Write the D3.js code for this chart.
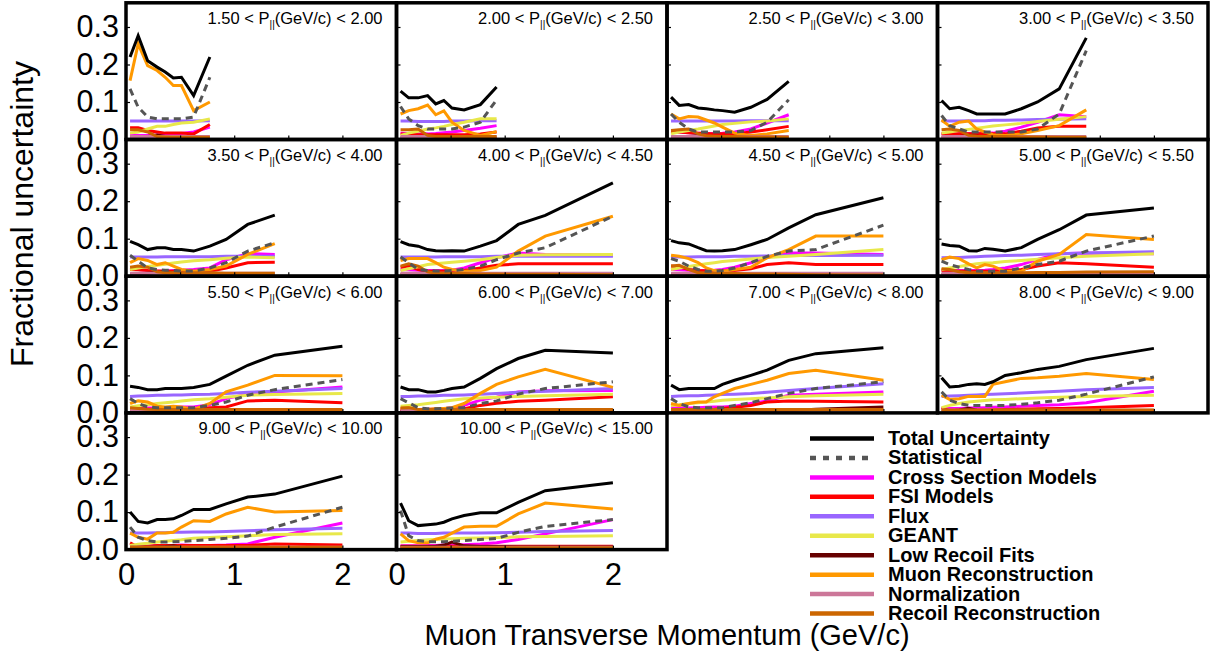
<!DOCTYPE html>
<html><head><meta charset="utf-8">
<script src="https://cdn.jsdelivr.net/npm/d3@7"></script>
<style>
html,body{margin:0;padding:0;background:#fff;}
svg text{font-family:"Liberation Sans",Arial,Helvetica,sans-serif;}
</style></head>
<body>
<svg id="chart" width="1213" height="655"></svg>
<script>
// ---- DATA ----
const ptBins = [0.0375, 0.1125, 0.2, 0.2875, 0.3625, 0.4375, 0.5125, 0.625, 0.775, 0.925, 1.125, 1.375, 2.0];
const pzLow  = ["1.50","2.00","2.50","3.00","3.50","4.00","4.50","5.00","5.50","6.00","7.00","8.00","9.00","10.00"];
const pzHigh = ["2.00","2.50","3.00","3.50","4.00","4.50","5.00","5.50","6.00","7.00","8.00","9.00","10.00","15.00"];
const yTicks = [0, 0.1, 0.2, 0.3];
const xTicks = [0, 1, 2];
const seriesNames = ["Total Uncertainty","Statistical","Cross Section Models","FSI Models","Flux","GEANT","Low Recoil Fits","Muon Reconstruction","Normalization","Recoil Reconstruction"];

const total = [
 [0.22,0.277,0.21,0.193,0.18,0.164,0.166,0.117,0.22],
 [0.129,0.111,0.111,0.117,0.095,0.104,0.084,0.079,0.093,0.14],
 [0.113,0.091,0.093,0.084,0.082,0.079,0.077,0.073,0.086,0.107,0.155],
 [0.104,0.082,0.086,0.077,0.068,0.068,0.068,0.068,0.082,0.1,0.135,0.271],
 [0.093,0.084,0.071,0.076,0.076,0.071,0.071,0.067,0.08,0.098,0.138,0.163],
 [0.092,0.084,0.08,0.071,0.068,0.067,0.068,0.067,0.08,0.095,0.138,0.162,0.249],
 [0.095,0.089,0.086,0.076,0.068,0.067,0.068,0.071,0.084,0.098,0.129,0.164,0.209],
 [0.086,0.082,0.08,0.068,0.067,0.074,0.072,0.067,0.076,0.098,0.124,0.163,0.182],
 [0.071,0.068,0.062,0.062,0.065,0.065,0.065,0.068,0.076,0.098,0.127,0.154,0.178],
 [0.069,0.062,0.062,0.056,0.056,0.06,0.065,0.069,0.092,0.118,0.145,0.167,0.16],
 [0.074,0.062,0.065,0.065,0.065,0.065,0.076,0.087,0.1,0.114,0.14,0.158,0.174],
 [0.094,0.069,0.071,0.076,0.078,0.076,0.083,0.1,0.107,0.116,0.124,0.142,0.172],
 [0.1,0.075,0.071,0.08,0.08,0.082,0.091,0.107,0.107,0.122,0.14,0.148,0.196],
 [0.124,0.077,0.064,0.066,0.068,0.073,0.082,0.091,0.098,0.098,0.126,0.157,0.178]
];
const statistical = [
 [0.135,0.086,0.06,0.055,0.055,0.055,0.055,0.06,0.166],
 [0.088,0.055,0.037,0.028,0.028,0.028,0.028,0.033,0.046,0.106],
 [0.068,0.046,0.028,0.02,0.02,0.02,0.02,0.02,0.024,0.046,0.106],
 [0.064,0.037,0.028,0.02,0.02,0.02,0.02,0.02,0.02,0.028,0.068,0.237],
 [0.056,0.04,0.022,0.018,0.016,0.015,0.014,0.014,0.022,0.036,0.067,0.089],
 [0.051,0.036,0.018,0.015,0.014,0.014,0.015,0.018,0.027,0.044,0.062,0.076,0.16],
 [0.047,0.04,0.027,0.018,0.013,0.013,0.015,0.022,0.036,0.053,0.067,0.071,0.136],
 [0.04,0.031,0.024,0.018,0.014,0.013,0.013,0.013,0.022,0.031,0.04,0.067,0.107],
 [0.038,0.025,0.016,0.014,0.014,0.014,0.014,0.014,0.02,0.029,0.047,0.062,0.089],
 [0.038,0.027,0.014,0.011,0.011,0.012,0.013,0.014,0.025,0.032,0.05,0.065,0.083],
 [0.038,0.025,0.016,0.014,0.014,0.014,0.014,0.02,0.027,0.038,0.052,0.065,0.083],
 [0.056,0.034,0.025,0.02,0.02,0.02,0.02,0.02,0.023,0.027,0.034,0.05,0.096],
 [0.06,0.033,0.024,0.02,0.02,0.021,0.022,0.024,0.027,0.03,0.036,0.06,0.113],
 [0.104,0.037,0.024,0.021,0.021,0.021,0.022,0.024,0.027,0.03,0.046,0.062,0.08]
];
const crossSection = [
 [0.013,0.011,0.011,0.012,0.013,0.014,0.016,0.02,0.033],
 [0.017,0.016,0.015,0.015,0.016,0.018,0.02,0.024,0.03,0.037],
 [0.02,0.019,0.018,0.017,0.016,0.016,0.017,0.02,0.028,0.044,0.066],
 [0.015,0.015,0.015,0.016,0.016,0.017,0.017,0.022,0.033,0.046,0.066,0.061],
 [0.022,0.018,0.015,0.013,0.014,0.015,0.016,0.018,0.022,0.044,0.06,0.058],
 [0.018,0.017,0.016,0.015,0.015,0.015,0.016,0.022,0.036,0.049,0.062,0.058,0.056],
 [0.018,0.017,0.016,0.015,0.015,0.016,0.018,0.024,0.036,0.05,0.062,0.062,0.058],
 [0.018,0.016,0.015,0.015,0.015,0.016,0.018,0.022,0.031,0.045,0.06,0.062,0.06],
 [0.014,0.013,0.013,0.013,0.014,0.015,0.016,0.016,0.022,0.038,0.05,0.056,0.069],
 [0.009,0.009,0.009,0.01,0.01,0.011,0.014,0.02,0.034,0.042,0.056,0.059,0.06],
 [0.014,0.013,0.013,0.014,0.015,0.016,0.016,0.018,0.025,0.032,0.047,0.05,0.056],
 [0.012,0.012,0.012,0.013,0.013,0.014,0.015,0.016,0.018,0.02,0.022,0.027,0.058],
 [0.007,0.008,0.009,0.01,0.01,0.011,0.012,0.011,0.011,0.012,0.015,0.033,0.071],
 [0.01,0.01,0.01,0.011,0.011,0.012,0.012,0.013,0.015,0.018,0.027,0.042,0.08]
];
const fsiModels = [
 [0.031,0.031,0.024,0.02,0.017,0.017,0.017,0.015,0.04],
 [0.015,0.014,0.013,0.013,0.013,0.013,0.013,0.013,0.015,0.02],
 [0.021,0.02,0.018,0.017,0.016,0.015,0.015,0.015,0.02,0.026,0.035],
 [0.015,0.015,0.015,0.015,0.015,0.015,0.015,0.015,0.022,0.031,0.035,0.035],
 [0.018,0.017,0.015,0.014,0.013,0.013,0.013,0.013,0.013,0.022,0.036,0.037],
 [0.024,0.027,0.018,0.013,0.013,0.013,0.013,0.015,0.022,0.029,0.033,0.033,0.033],
 [0.027,0.025,0.018,0.015,0.014,0.014,0.014,0.015,0.02,0.031,0.036,0.031,0.031],
 [0.015,0.014,0.013,0.013,0.013,0.013,0.013,0.015,0.018,0.027,0.036,0.033,0.024],
 [0.012,0.011,0.01,0.01,0.009,0.009,0.009,0.01,0.014,0.016,0.032,0.034,0.027],
 [0.007,0.007,0.007,0.008,0.008,0.009,0.01,0.011,0.02,0.026,0.031,0.034,0.043],
 [0.007,0.007,0.008,0.008,0.009,0.01,0.012,0.015,0.02,0.029,0.032,0.031,0.029],
 [0.014,0.006,0.006,0.007,0.007,0.007,0.008,0.009,0.01,0.011,0.012,0.014,0.02],
 [0.018,0.007,0.009,0.011,0.011,0.011,0.011,0.011,0.011,0.011,0.011,0.015,0.012],
 [0.009,0.009,0.009,0.009,0.009,0.009,0.009,0.009,0.009,0.009,0.009,0.009,0.009]
];
const flux = [
 [0.049,0.049,0.049,0.049,0.049,0.049,0.049,0.049,0.05],
 [0.049,0.049,0.048,0.048,0.048,0.048,0.049,0.049,0.05,0.05],
 [0.049,0.049,0.049,0.049,0.049,0.049,0.049,0.049,0.05,0.05,0.05],
 [0.049,0.049,0.049,0.05,0.05,0.05,0.051,0.051,0.052,0.053,0.054,0.055],
 [0.051,0.051,0.051,0.051,0.052,0.052,0.052,0.052,0.052,0.053,0.053,0.053],
 [0.051,0.051,0.051,0.051,0.051,0.052,0.052,0.052,0.052,0.053,0.053,0.053,0.053],
 [0.051,0.051,0.051,0.052,0.052,0.052,0.052,0.053,0.053,0.054,0.055,0.055,0.056],
 [0.049,0.05,0.05,0.051,0.052,0.053,0.054,0.055,0.056,0.058,0.06,0.062,0.065],
 [0.044,0.045,0.046,0.047,0.047,0.048,0.048,0.049,0.05,0.052,0.055,0.058,0.065],
 [0.044,0.044,0.045,0.045,0.046,0.047,0.047,0.048,0.05,0.052,0.055,0.058,0.065],
 [0.044,0.045,0.046,0.046,0.047,0.048,0.049,0.05,0.052,0.055,0.06,0.065,0.078],
 [0.044,0.045,0.046,0.047,0.048,0.049,0.05,0.051,0.053,0.055,0.058,0.062,0.068],
 [0.044,0.044,0.044,0.045,0.045,0.046,0.046,0.047,0.047,0.048,0.05,0.053,0.057],
 [0.044,0.044,0.043,0.043,0.043,0.044,0.044,0.044,0.044,0.045,0.046,0.048,0.051]
];
const geant = [
 [0.017,0.02,0.028,0.035,0.035,0.04,0.044,0.046,0.055],
 [0.011,0.017,0.022,0.028,0.031,0.035,0.04,0.046,0.055,0.055],
 [0.015,0.02,0.024,0.028,0.032,0.036,0.04,0.043,0.047,0.049,0.055],
 [0.017,0.02,0.024,0.027,0.03,0.033,0.036,0.039,0.043,0.048,0.054,0.061],
 [0.018,0.022,0.026,0.029,0.032,0.035,0.038,0.041,0.044,0.048,0.051,0.049],
 [0.015,0.02,0.025,0.031,0.033,0.035,0.037,0.04,0.044,0.05,0.056,0.057,0.058],
 [0.018,0.022,0.026,0.03,0.033,0.036,0.039,0.042,0.046,0.05,0.053,0.058,0.071],
 [0.018,0.022,0.026,0.03,0.033,0.035,0.036,0.039,0.042,0.045,0.049,0.053,0.06],
 [0.016,0.019,0.022,0.025,0.027,0.029,0.032,0.035,0.038,0.042,0.047,0.049,0.052],
 [0.018,0.02,0.022,0.025,0.028,0.031,0.034,0.038,0.04,0.042,0.044,0.046,0.05],
 [0.02,0.022,0.025,0.027,0.029,0.031,0.034,0.036,0.038,0.04,0.043,0.046,0.05],
 [0.014,0.02,0.025,0.029,0.031,0.033,0.035,0.036,0.038,0.04,0.042,0.044,0.047],
 [0.011,0.014,0.017,0.02,0.022,0.024,0.026,0.03,0.032,0.034,0.037,0.04,0.042],
 [0.02,0.022,0.024,0.026,0.027,0.028,0.029,0.03,0.031,0.032,0.034,0.035,0.037]
];
const lowRecoil = [
 [0.005,0.006,0.008,0.012,0.008,0.006,0.005,0.005,0.005],
 [0.005,0.006,0.006,0.008,0.008,0.007,0.006,0.005,0.005,0.005],
 [0.005,0.006,0.008,0.01,0.008,0.006,0.005,0.005,0.005,0.005,0.005],
 [0.005,0.006,0.008,0.01,0.009,0.007,0.006,0.005,0.005,0.005,0.005,0.005],
 [0.005,0.006,0.008,0.01,0.012,0.008,0.006,0.005,0.005,0.005,0.005,0.005],
 [0.005,0.006,0.007,0.008,0.007,0.006,0.005,0.005,0.005,0.005,0.005,0.005,0.005],
 [0.005,0.006,0.007,0.008,0.007,0.006,0.005,0.005,0.005,0.005,0.005,0.005,0.005],
 [0.005,0.005,0.006,0.007,0.006,0.005,0.005,0.005,0.005,0.005,0.005,0.005,0.005],
 [0.004,0.005,0.006,0.007,0.006,0.005,0.004,0.004,0.004,0.004,0.004,0.004,0.004],
 [0.004,0.005,0.006,0.006,0.005,0.004,0.004,0.004,0.004,0.004,0.004,0.004,0.004],
 [0.004,0.005,0.006,0.006,0.005,0.004,0.004,0.004,0.004,0.005,0.006,0.01,0.016],
 [0.004,0.005,0.008,0.012,0.007,0.005,0.005,0.005,0.005,0.005,0.005,0.005,0.005],
 [0.006,0.006,0.006,0.007,0.008,0.01,0.006,0.005,0.005,0.005,0.005,0.005,0.005],
 [0.008,0.008,0.008,0.008,0.009,0.012,0.02,0.01,0.008,0.008,0.007,0.007,0.007]
];
const muonReco = [
 [0.157,0.255,0.197,0.184,0.166,0.144,0.144,0.077,0.1],
 [0.068,0.077,0.082,0.092,0.066,0.076,0.046,0.024,0.011,0.021],
 [0.068,0.055,0.061,0.06,0.052,0.044,0.033,0.017,0.011,0.015,0.024],
 [0.052,0.035,0.046,0.049,0.028,0.02,0.013,0.011,0.015,0.024,0.037,0.079],
 [0.036,0.047,0.042,0.031,0.036,0.027,0.018,0.013,0.018,0.027,0.058,0.087],
 [0.042,0.047,0.047,0.047,0.036,0.024,0.018,0.013,0.015,0.024,0.067,0.107,0.16],
 [0.056,0.053,0.047,0.036,0.022,0.015,0.013,0.018,0.024,0.049,0.071,0.107,0.107],
 [0.044,0.051,0.047,0.033,0.022,0.031,0.027,0.013,0.013,0.04,0.058,0.111,0.098],
 [0.025,0.032,0.029,0.018,0.016,0.018,0.016,0.009,0.025,0.056,0.074,0.1,0.099],
 [0.012,0.014,0.009,0.009,0.012,0.012,0.014,0.025,0.052,0.076,0.096,0.116,0.068],
 [0.025,0.02,0.025,0.029,0.029,0.043,0.052,0.065,0.076,0.087,0.105,0.114,0.087],
 [0.047,0.036,0.038,0.044,0.044,0.044,0.076,0.083,0.092,0.094,0.098,0.105,0.089],
 [0.044,0.033,0.028,0.044,0.044,0.046,0.06,0.077,0.075,0.095,0.113,0.1,0.104],
 [0.042,0.024,0.018,0.018,0.028,0.033,0.044,0.06,0.062,0.062,0.095,0.124,0.108]
];
const normalization = [
 [0.008,0.008,0.008,0.008,0.008,0.008,0.008,0.008,0.008],
 [0.008,0.008,0.008,0.008,0.008,0.008,0.008,0.008,0.008,0.008],
 [0.008,0.008,0.008,0.008,0.008,0.008,0.008,0.008,0.008,0.008,0.008],
 [0.008,0.008,0.008,0.008,0.008,0.008,0.008,0.008,0.008,0.008,0.008,0.008],
 [0.008,0.008,0.008,0.008,0.008,0.008,0.008,0.008,0.008,0.008,0.008,0.008],
 [0.008,0.008,0.008,0.008,0.008,0.008,0.008,0.008,0.008,0.008,0.008,0.008,0.008],
 [0.008,0.008,0.008,0.008,0.008,0.008,0.008,0.008,0.008,0.008,0.008,0.008,0.008],
 [0.008,0.008,0.008,0.008,0.008,0.008,0.008,0.008,0.008,0.008,0.008,0.008,0.008],
 [0.007,0.007,0.007,0.007,0.007,0.007,0.007,0.007,0.007,0.007,0.007,0.007,0.007],
 [0.007,0.007,0.007,0.007,0.007,0.007,0.007,0.007,0.007,0.007,0.007,0.007,0.007],
 [0.007,0.007,0.007,0.007,0.007,0.007,0.007,0.007,0.007,0.007,0.007,0.007,0.007],
 [0.007,0.007,0.007,0.007,0.007,0.007,0.007,0.007,0.007,0.007,0.007,0.007,0.007],
 [0.006,0.006,0.006,0.006,0.006,0.006,0.006,0.006,0.006,0.006,0.006,0.006,0.006],
 [0.006,0.006,0.006,0.006,0.006,0.006,0.006,0.006,0.006,0.006,0.006,0.006,0.006]
];
const recoilReco = [
 [0.026,0.026,0.02,0.008,0.007,0.006,0.006,0.006,0.006],
 [0.026,0.026,0.028,0.011,0.008,0.008,0.008,0.008,0.008,0.008],
 [0.024,0.026,0.028,0.015,0.01,0.009,0.008,0.008,0.007,0.007,0.006],
 [0.026,0.028,0.024,0.011,0.009,0.008,0.008,0.008,0.007,0.007,0.006,0.006],
 [0.024,0.027,0.024,0.012,0.009,0.009,0.009,0.009,0.009,0.008,0.008,0.008],
 [0.027,0.033,0.027,0.012,0.008,0.008,0.007,0.007,0.006,0.006,0.005,0.005,0.004],
 [0.027,0.029,0.018,0.009,0.008,0.008,0.007,0.007,0.006,0.006,0.005,0.004,0.003],
 [0.02,0.018,0.012,0.009,0.009,0.009,0.009,0.009,0.009,0.01,0.01,0.011,0.012],
 [0.014,0.012,0.01,0.009,0.009,0.009,0.009,0.009,0.009,0.009,0.009,0.009,0.009],
 [0.013,0.014,0.009,0.009,0.009,0.009,0.009,0.009,0.009,0.009,0.009,0.009,0.009],
 [0.009,0.009,0.009,0.009,0.009,0.009,0.009,0.009,0.009,0.009,0.009,0.009,0.009],
 [0.008,0.008,0.008,0.008,0.008,0.008,0.008,0.008,0.008,0.008,0.008,0.008,0.008],
 [0.006,0.006,0.006,0.006,0.006,0.006,0.006,0.006,0.006,0.006,0.006,0.006,0.006],
 [0.005,0.005,0.005,0.005,0.005,0.005,0.005,0.005,0.005,0.005,0.005,0.005,0.005]
];

// ---- STYLE ----
const seriesData = [total, statistical, crossSection, fsiModels, flux, geant, lowRecoil, muonReco, normalization, recoilReco];
const seriesColors = ["#000000","#555555","#ff00ff","#ff0000","#9966ff","#e8e84a","#660000","#ff9900","#cc7799","#cc6600"];
const drawOrder = [2,3,4,5,6,7,8,9,1,0];
const font = '"Liberation Sans",Arial,Helvetica,sans-serif';

const svg = d3.select("#chart");
const colX = [126, 396.5, 667, 937.5], colW = 270.5;
const rowB = [139.5, 276.2, 412.9, 549.6], rowH = 136.7;
const yMax = 0.3645;

for (let p = 0; p < total.length; p++) {
  const c = p % 4, r = Math.floor(p / 4);
  const x = d3.scaleLinear().domain([0, 2.5]).range([colX[c], colX[c] + colW]);
  const y = d3.scaleLinear().domain([0, yMax]).range([rowB[r], rowB[r] - rowH]);
  const g = svg.append("g");
  const line = d3.line().x(d => x(d[0])).y(d => y(d[1]));
  drawOrder.forEach(si => {
    const vals = seriesData[si][p];
    const pts = vals.map((v, i) => [ptBins[i], v]);
    g.append("path").datum(pts).attr("d", line)
      .attr("fill", "none").attr("stroke", seriesColors[si])
      .attr("stroke-width", 3)
      .attr("stroke-dasharray", si === 1 ? "7,5" : null);
  });
  // inner ticks
  g.append("g").attr("transform", `translate(0,${rowB[r]})`)
    .call(d3.axisBottom(x).tickValues([0.5,1,1.5,2]).tickSize(-4).tickFormat(""))
    .call(a => a.select(".domain").remove())
    .call(a => a.selectAll("line").attr("stroke-width", 1.2));
  g.append("g").attr("transform", `translate(${colX[c]},0)`)
    .call(d3.axisLeft(y).tickValues([0.1,0.2,0.3]).tickSize(-4).tickFormat(""))
    .call(a => a.select(".domain").remove())
    .call(a => a.selectAll("line").attr("stroke-width", 1.2));
  // frame
  g.append("rect").attr("x", colX[c]).attr("y", rowB[r] - rowH)
    .attr("width", colW).attr("height", rowH)
    .attr("fill", "none").attr("stroke", "#000").attr("stroke-width", 3.5);
  // label
  const t = g.append("text").attr("x", colX[c] + colW - 14).attr("y", rowB[r] - rowH + 21.5)
    .attr("text-anchor", "end").attr("font-size", 16.5).attr("fill", "#000");
  t.append("tspan").text(pzLow[p] + " < P");
  t.append("tspan").text("||").attr("font-size", 10).attr("dy", 4);
  t.append("tspan").text("(GeV/c) < " + pzHigh[p]).attr("dy", -4);

  if (c === 0) {
    svg.append("g").attr("transform", `translate(${colX[c]},0)`)
      .call(d3.axisLeft(y).tickValues(yTicks).tickSize(0).tickPadding(7).tickFormat(d3.format(".1f")))
      .call(a => a.select(".domain").remove())
      .call(a => a.selectAll("text").attr("font-size", 30.5).attr("font-family", font).attr("fill", "#000"));
  }
  if (r === 3) {
    svg.append("g").attr("transform", `translate(0,${rowB[r]})`)
      .call(d3.axisBottom(x).tickValues(xTicks).tickSize(0).tickPadding(13).tickFormat(d3.format("d")))
      .call(a => a.select(".domain").remove())
      .call(a => a.selectAll("text").attr("font-size", 31).attr("font-family", font).attr("fill", "#000"));
  }
}

// axis titles
svg.append("text").attr("transform", "translate(33,214) rotate(-90)")
  .attr("text-anchor", "middle").attr("font-size", 32).text("Fractional uncertainty");
svg.append("text").attr("x", 667).attr("y", 645)
  .attr("text-anchor", "middle").attr("font-size", 29).text("Muon Transverse Momentum (GeV/c)");

// legend
const lg = svg.append("g");
seriesNames.forEach((name, i) => {
  const yy = 438.5 + i * 19.45;
  lg.append("line").attr("x1", 810).attr("x2", 874).attr("y1", yy).attr("y2", yy)
    .attr("stroke", seriesColors[i]).attr("stroke-width", 4.5)
    .attr("stroke-dasharray", i === 1 ? "6,7" : null);
  lg.append("text").attr("x", 888).attr("y", yy + 6.5)
    .attr("font-size", 20).attr("font-weight", "bold").text(name);
});
</script>
</body></html>
